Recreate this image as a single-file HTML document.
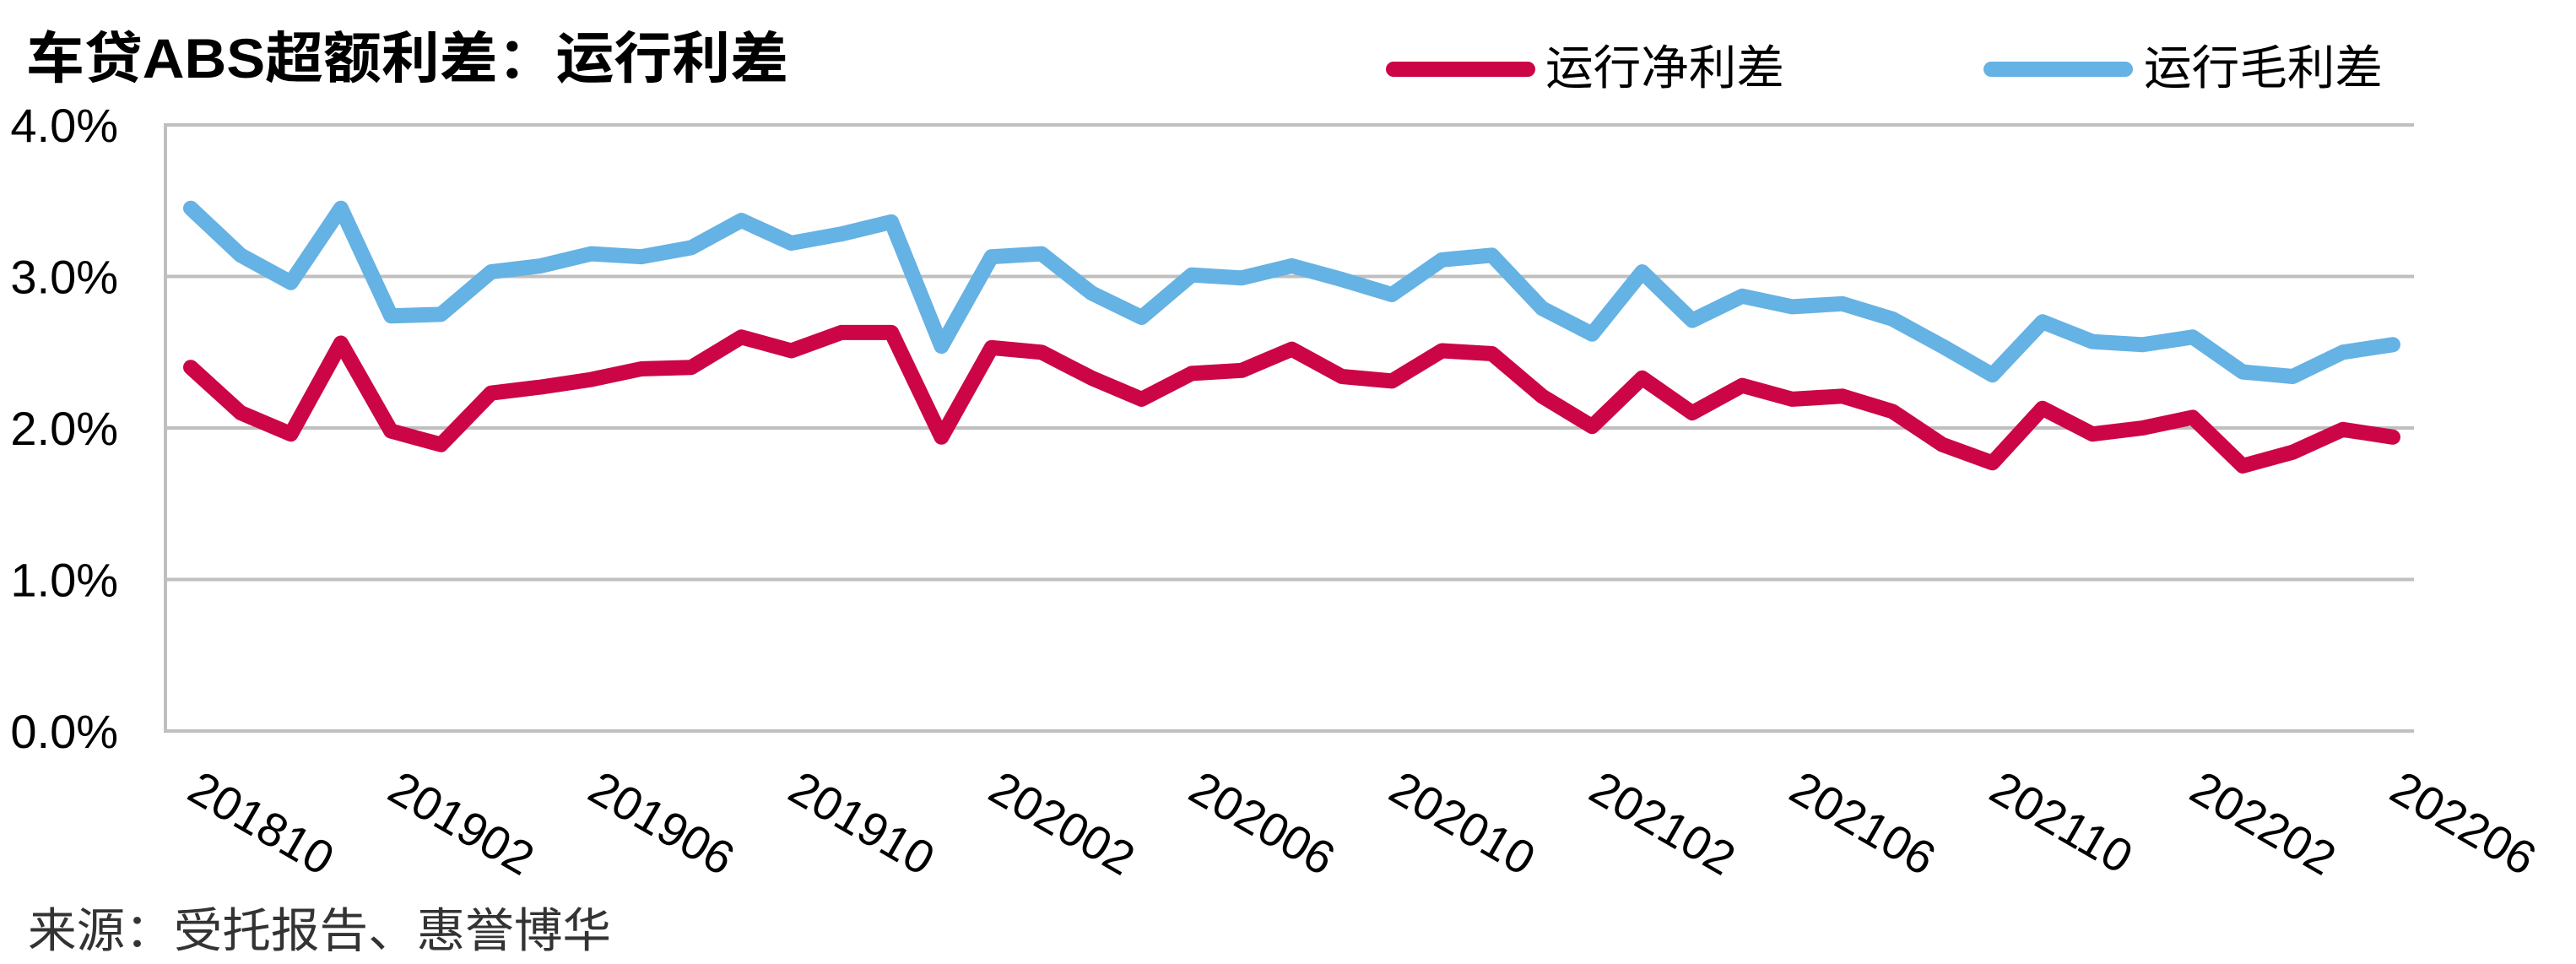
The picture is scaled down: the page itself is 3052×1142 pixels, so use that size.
<!DOCTYPE html>
<html><head><meta charset="utf-8"><style>
html,body{margin:0;padding:0;background:#fff;}
svg{display:block;}
text{font-family:"Liberation Sans","Noto Sans CJK SC",sans-serif;}
</style></head><body>
<svg id="chart" width="3052" height="1142" viewBox="0 0 3052 1142" xmlns="http://www.w3.org/2000/svg">
<text x="31" y="92" font-size="66" font-weight="bold" fill="#000" textLength="903" lengthAdjust="spacingAndGlyphs">车贷ABS超额利差：运行利差</text>
<g>
<g>
<line x1="1651" y1="82" x2="1810" y2="82" stroke="#cc0547" stroke-width="18" stroke-linecap="round"/>
<text x="1831" y="100" font-size="56" fill="#000" textLength="283" lengthAdjust="spacingAndGlyphs">运行净利差</text>
</g>
<g>
<line x1="2359" y1="82" x2="2518" y2="82" stroke="#65b2e4" stroke-width="18" stroke-linecap="round"/>
<text x="2540" y="100" font-size="56" fill="#000" textLength="283" lengthAdjust="spacingAndGlyphs">运行毛利差</text>
</g>
</g>
<g id="grid"></g>
<g id="yaxis"></g>
<g id="xaxis"></g>
<g id="series"></g>
<text x="33" y="1122" font-size="56" fill="#333" textLength="691" lengthAdjust="spacingAndGlyphs">来源：受托报告、惠誉博华</text>
</svg>
<script>
const months = ["201810","201811","201812","201901","201902","201903","201904","201905","201906","201907","201908","201909","201910","201911","201912","202001","202002","202003","202004","202005","202006","202007","202008","202009","202010","202011","202012","202101","202102","202103","202104","202105","202106","202107","202108","202109","202110","202111","202112","202201","202202","202203","202204","202205","202206"];
const netSpread = [2.40,2.10,1.96,2.56,1.98,1.89,2.23,2.27,2.32,2.39,2.40,2.60,2.51,2.63,2.63,1.94,2.53,2.50,2.33,2.19,2.36,2.38,2.52,2.34,2.31,2.51,2.49,2.21,2.01,2.33,2.10,2.28,2.19,2.21,2.11,1.89,1.77,2.13,1.96,2.00,2.07,1.75,1.84,1.99,1.94];
const grossSpread = [3.45,3.14,2.96,3.45,2.74,2.75,3.03,3.07,3.15,3.13,3.19,3.37,3.22,3.28,3.36,2.54,3.13,3.15,2.89,2.73,3.01,2.99,3.07,2.98,2.88,3.11,3.14,2.79,2.62,3.03,2.71,2.87,2.80,2.82,2.72,2.54,2.35,2.70,2.57,2.55,2.60,2.37,2.34,2.50,2.55];
const yTicks = [0,1,2,3,4];
const yTickLabels = ["0.0%","1.0%","2.0%","3.0%","4.0%"];
const xTickEvery = 4;

const NS="http://www.w3.org/2000/svg";
const plotL=196, plotR=2860, x0=226, x1=2835, yBase=866, yTop=148, yMax=4;
function xScale(i){return x0+i*(x1-x0)/(months.length-1);}
function yScale(v){return yBase-(v/yMax)*(yBase-yTop);}
function mk(tag,attrs,parent){const e=document.createElementNS(NS,tag);for(const k in attrs)e.setAttribute(k,attrs[k]);parent.appendChild(e);return e;}

const grid=document.getElementById('grid');
const yaxis=document.getElementById('yaxis');
yTicks.forEach((t,k)=>{
  const y=yScale(t);
  const ln=mk('line',{x1:plotL,y1:y,x2:plotR,y2:y,stroke:'#bfbfbf','stroke-width':4},grid);
  
  
  const tx=mk('text',{x:140,y:y+20,'font-size':56,'text-anchor':'end',fill:'#000'},yaxis);
  tx.textContent=yTickLabels[k];
  
  
});
const ax=mk('line',{x1:plotL,y1:yTop-2,x2:plotL,y2:yBase+2,stroke:'#bfbfbf','stroke-width':4},grid);



const xaxis=document.getElementById('xaxis');
months.forEach((m,i)=>{
  if(i%xTickEvery!==0)return;
  const x=xScale(i)-7, y=945;
  const tx=mk('text',{x:x,y:y,'font-size':56,fill:'#000',transform:'rotate(30 '+x+' '+y+')'},xaxis);
  tx.textContent=m;
  
  
});

const series=document.getElementById('series');
function drawLine(vals,color,name){
  const pts=vals.map((v,i)=>xScale(i).toFixed(1)+','+yScale(v).toFixed(1)).join(' ');
  const pl=mk('polyline',{points:pts,fill:'none',stroke:color,'stroke-width':18,'stroke-linejoin':'round','stroke-linecap':'round'},series);
  
  
}
drawLine(grossSpread,'#65b2e4','gross-spread-line');
drawLine(netSpread,'#cc0547','net-spread-line');
</script>
</body></html>
